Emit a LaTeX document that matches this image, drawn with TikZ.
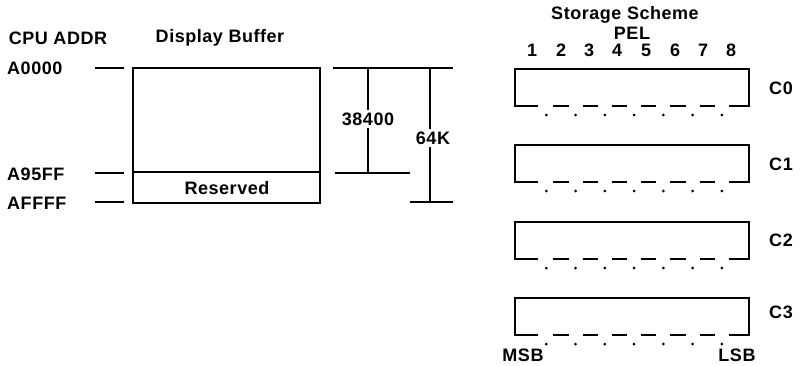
\documentclass[tikz,border=0pt]{standalone}
\usepackage{fontspec}
\setmainfont{Liberation Sans}[LetterSpace=3]
\usepackage{xcolor}
\usepackage{tikz}
\usetikzlibrary{positioning}

\begin{document}
\begin{tikzpicture}[x=1pt,y=-1pt,
    lbl/.style={font=\fontsize{18}{20}\selectfont\bfseries, inner sep=0pt},
    tick/.style={line width=1.2pt},
    wall/.style={line width=2pt},
    dim/.style={line width=1.4pt},
    cell/.style={line width=1.8pt}]
\useasboundingbox (0,0) rectangle (803,365);

% Headings
\node[lbl] (cpu) at (58,38) {CPU ADDR};
\node[lbl] (disp) at (220,38) {Display Buffer};

% Addresses
\node[lbl, anchor=west] (a0000) at (7,68)  {A0000};
\node[lbl, anchor=west] (a95ff) at (7,174) {A95FF};
\node[lbl, anchor=west] (affff) at (7,203) {AFFFF};
\draw[tick] (95,68)  -- (124,68);
\draw[tick] (95,173) -- (124,173);
\draw[tick] (95,202) -- (124,202);

% Display buffer
\draw[wall] (133,68) rectangle (320,203);
\draw[wall] (133,172) -- (320,172);
\node[lbl] (res) at (227,188) {Reserved};

% Dimensions
\draw[dim] (333,68) -- (453,68);
\draw[dim] (335,173) -- (410,173);
\draw[dim] (410,202) -- (453,202);
\draw[dim] (368,68) -- (368,173);
\draw[dim] (430,68) -- (430,202);
\node[lbl, fill=white, inner sep=3pt] (n38400) at (368,119) {38400};
\node[lbl, fill=white, inner sep=3pt] (n64k) at (433,138) {64K};

% Storage scheme
\node[lbl] (stor) at (625,15) {Storage Scheme};
\node[lbl] (pel) at (632,33) {PEL};
\node[lbl] (p1) at (532,50) {1};
\node[lbl] (p2) at (561,50) {2};
\node[lbl] (p3) at (589,50) {3};
\node[lbl] (p4) at (617,50) {4};
\node[lbl] (p5) at (646,50) {5};
\node[lbl] (p6) at (675,50) {6};
\node[lbl] (p7) at (703,50) {7};
\node[lbl] (p8) at (731,50) {8};

% Planes C0..C3
\foreach \t/\l/\ly in {69/C0/88, 145/C1/164, 222/C2/240, 298/C3/312}{
  \pgfmathsetmacro\b{\t+37}
  \draw[cell] (538,\b) -- (515,\b) -- (515,\t) -- (749,\t) -- (749,\b) -- (729,\b);
  \foreach \k in {1,...,6}
    \draw[cell] ({517+29.25*\k+7},\b) -- ({517+29.25*(\k+1)-7},\b);
  \foreach \k in {1,...,7}
    \fill ({517+29.25*\k},\b+9) circle (1.5);
  \node[lbl] (\l) at (781,\ly) {\l};
}
\node[lbl] (msb) at (523,355) {MSB};
\node[lbl] (lsb) at (737,355) {LSB};
\end{tikzpicture}
\end{document}
